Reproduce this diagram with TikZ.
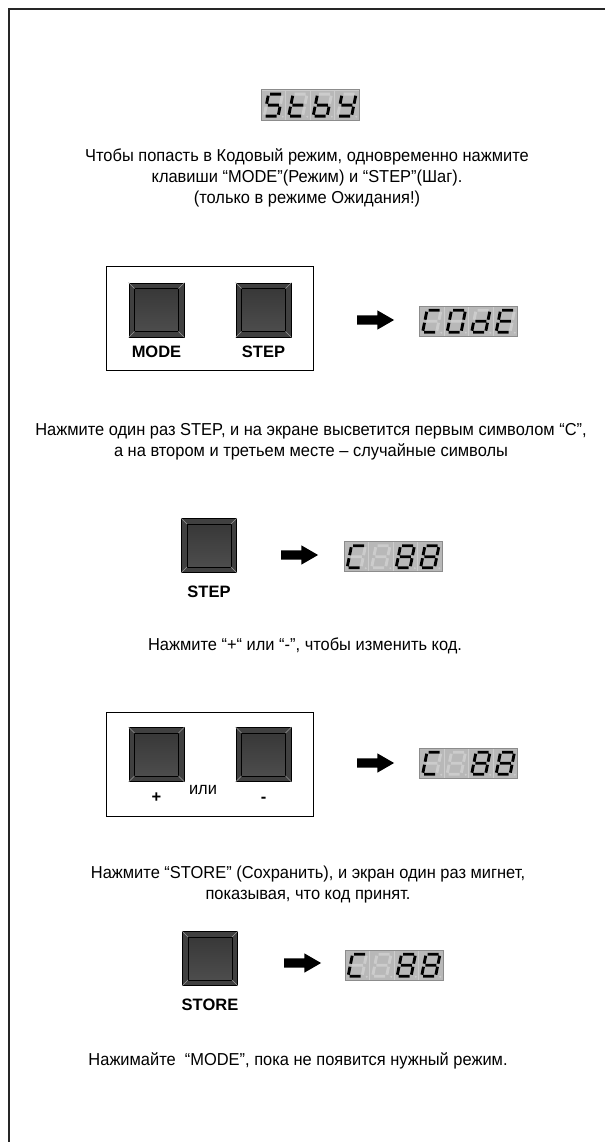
\documentclass[tikz,border=0pt]{standalone}
\usepackage{fontspec}
\setmainfont{Liberation Sans}
\newfontfamily\narrowfont[FakeStretch=0.95]{Liberation Sans}
\usetikzlibrary{positioning, shapes.arrows, calc}
\definecolor{lcdgray}{RGB}{184,184,184}
\definecolor{lcdoff}{RGB}{204,204,204}
\definecolor{lcdedge}{RGB}{140,140,140}
\definecolor{keybevel}{RGB}{64,64,64}

% seven segments of one cell
\def\sega{(7,26)--(18,26) }
\def\segb{(19.5,24.5)--(19.5,16.5) }
\def\segc{(19.5,13.5)--(19.5,5.5) }
\def\segd{(7,4)--(18,4) }
\def\sege{(5.5,13.5)--(5.5,5.5) }
\def\segf{(5.5,24.5)--(5.5,16.5) }
\def\segg{(7,15)--(18,15) }
\def\lcdS{\sega\segf\segg\segc\segd}
\def\lcdt{\segf\sege\segd\segg}
\def\lcdb{\segf\sege\segd\segc\segg}
\def\lcdY{\segf\segb\segg\segc\segd}
\def\lcdC{\sega\segf\sege\segd}
\def\lcdO{\sega\segb\segc\segd\sege\segf}
\def\lcdd{\segb\segc\segd\sege\segg}
\def\lcdE{\sega\segf\segg\sege\segd}
\def\lcdEight{\sega\segb\segc\segd\sege\segf\segg}

\newcommand{\lcdcell}[3]{%
  \begin{scope}[shift={($(#1.south west)+(#2*24.5,0)$)}]
    \draw[lcdsep] (0,0) rectangle (24.5,30);
    \begin{scope}[xslant=0.2, xshift=-3pt]
      \draw[segoff] \lcdEight;
      \draw[segon] #3;
    \end{scope}
    \fill[lcdoff] (22,3.5) circle (1.1);
  \end{scope}}
\newcommand{\lcd}[6]{%
  \node[lcd] (#1) at (#2) {};
  \lcdcell{#1}{0}{#3}\lcdcell{#1}{1}{#4}\lcdcell{#1}{2}{#5}\lcdcell{#1}{3}{#6}
  \draw[lcdframe] (#1.south west) rectangle (#1.north east);}
\newcommand{\keycap}[1]{%
  \shade[keyface] ($(#1.north west)+(6,-6)$) rectangle ($(#1.south east)+(-6,6)$);
  \draw[keyline] ($(#1.north west)+(6,-6)$) rectangle ($(#1.south east)+(-6,6)$);
  \draw[keydiag] (#1.north west) -- ++(6,-6) (#1.north east) -- ++(-6,-6)
    (#1.south west) -- ++(6,6) (#1.south east) -- ++(-6,6);}

\begin{document}
\begin{tikzpicture}[x=1pt, y=1pt,
    txt/.style={font=\narrowfont\fontsize{17.3}{21}\selectfont, align=center, inner sep=0pt},
    keylabel/.style={font=\bfseries\fontsize{16.5}{18}\selectfont, inner sep=0pt, anchor=base},
    key/.style={draw=black, line width=0.8pt, fill=keybevel, minimum width=55pt, minimum height=54pt, inner sep=0pt},
    keyface/.style={shading angle=45, top color=black!78, middle color=black!45, bottom color=black!70},
    keyline/.style={draw=black, line width=0.7pt},
    keydiag/.style={draw=black!40, line width=0.6pt},
    lcd/.style={fill=lcdgray, minimum width=98pt, minimum height=30pt, inner sep=0pt},
    lcdsep/.style={draw=lcdoff, line width=0.6pt},
    lcdframe/.style={draw=lcdedge, line width=0.6pt},
    segon/.style={draw=black, line width=2.9pt},
    segoff/.style={draw=lcdoff, line width=2.9pt},
    blockarrow/.style={single arrow, fill=black, minimum height=37pt, inner xsep=0pt, inner ysep=4.5pt,
      single arrow head extend=5pt, single arrow tip angle=60, single arrow head indent=0pt},
    panel/.style={draw=black, line width=0.8pt},
    frame/.style={draw=black!85, line width=1.4pt}
  ]
  \useasboundingbox (0,0) rectangle (605,-1142);
  \draw[frame] (9,-1142) -- (9,-9) -- (605,-9);

  % standby
  \lcd{stby}{310,-105}{\lcdS}{\lcdt}{\lcdb}{\lcdY}
  \node[txt] (intro) at (307,-178) {Чтобы попасть в Кодовый режим, одновременно нажмите\\
    клавиши “MODE”(Режим) и “STEP”(Шаг).\\(только в режиме Ожидания!)};

  % MODE + STEP
  \draw[panel] (106,-266) rectangle (313,-370);
  \node[key] (modekey) at (156.5,-310) {};
  \node[key] (stepkey) at (263.5,-310) {};
  \keycap{modekey}\keycap{stepkey}
  \node[keylabel, below=20pt of modekey, anchor=base] (modelbl) {MODE};
  \node[keylabel, below=20pt of stepkey, anchor=base] (steplbl) {STEP};
  \node[blockarrow] (arrcode) at (371.5,-320) {};
  \lcd{code}{468.5,-321}{\lcdC}{\lcdO}{\lcdd}{\lcdE}

  \node[txt] (stepnote) at (311,-442) {Нажмите один раз STEP, и на экране высветится первым символом “C”,\\
    а на втором и третьем месте – случайные символы};

  % STEP once
  \node[key] (stepkeyb) at (209,-545.5) {};
  \keycap{stepkeyb}
  \node[keylabel, below=25pt of stepkeyb, anchor=base] (steplblb) {STEP};
  \node[blockarrow] (arrstep) at (295.5,-555) {};
  \lcd{cfirst}{393,-556.5}{\lcdC}{}{\lcdEight}{\lcdEight}

  \node[txt] (plusnote) at (305,-646) {Нажмите “+“ или “-”, чтобы изменить код.};

  % plus or minus
  \draw[panel] (106,-712) rectangle (313,-816);
  \node[key] (pluskey) at (156.5,-754.5) {};
  \node[key] (minuskey) at (263.5,-754.5) {};
  \keycap{pluskey}\keycap{minuskey}
  \node[keylabel, below=21pt of pluskey, anchor=base] (pluslbl) {+};
  \node[keylabel, below=21pt of minuskey, anchor=base] (minuslbl) {-};
  \node[txt, anchor=base] (orlbl) at (203,-794) {или};
  \node[blockarrow] (arrplus) at (371.5,-763) {};
  \lcd{cedit}{468.5,-763}{\lcdC}{}{\lcdEight}{\lcdEight}

  \node[txt] (storenote) at (308,-885) {Нажмите “STORE” (Сохранить), и экран один раз мигнет,\\
    показывая, что код принят.};

  % STORE
  \node[key] (storekey) at (210,-958.5) {};
  \keycap{storekey}
  \node[keylabel, below=25pt of storekey, anchor=base] (storelbl) {STORE};
  \node[blockarrow] (arrstore) at (298.5,-963) {};
  \lcd{cstore}{394,-965}{\lcdC}{}{\lcdEight}{\lcdEight}

  \node[txt] (modenote) at (298,-1061) {Нажимайте~ “MODE”, пока не появится нужный режим.};
\end{tikzpicture}
\end{document}
